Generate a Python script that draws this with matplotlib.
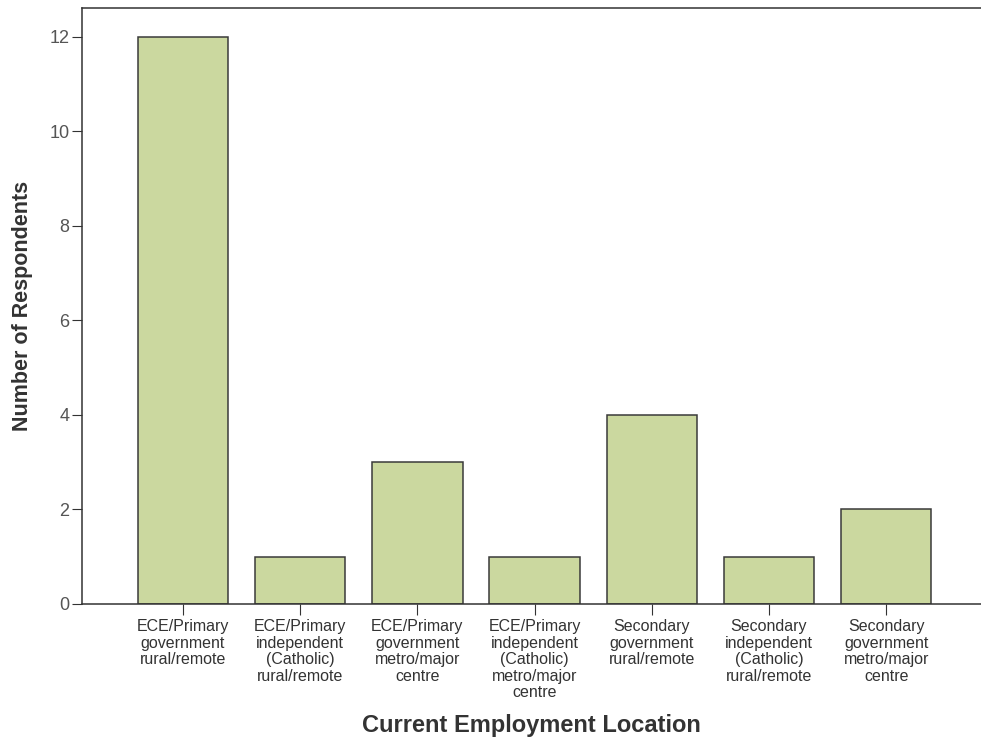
import numpy as np
import matplotlib.pyplot as plt

categories = [
    'ECE/Primary\ngovernment\nrural/remote',
    'ECE/Primary\nindependent\n(Catholic)\nrural/remote',
    'ECE/Primary\ngovernment\nmetro/major\ncentre',
    'ECE/Primary\nindependent\n(Catholic)\nmetro/major\ncentre',
    'Secondary\ngovernment\nrural/remote',
    'Secondary\nindependent\n(Catholic)\nrural/remote',
    'Secondary\ngovernment\nmetro/major\ncentre',
]
counts = [12, 1, 3, 1, 4, 1, 2]
yticks = [0, 2, 4, 6, 8, 10, 12]

plt.rcParams['font.family'] = ['Liberation Sans', 'DejaVu Sans']

fig = plt.figure(figsize=(9.81, 7.42), dpi=100)
ax = fig.add_axes([82/981, 1 - 604/742, 1.0 - 82/981, (604 - 8)/742])

x = np.arange(len(categories))
ax.bar(x, counts, width=0.77, color='#cbd89f', edgecolor='#3a3a3a', linewidth=1.1)

ax.set_xlim(-0.862, 6.809)
ax.set_ylim(0, 12.61)
ax.set_yticks(yticks)
ax.set_xticks(x)
ax.set_xticklabels(categories, fontsize=11.5, color='#333333', linespacing=1.12)
ax.tick_params(axis='y', direction='out', length=7, pad=2, labelsize=13, labelcolor='#555555', color='#333333')
ax.tick_params(axis='x', direction='out', length=8, pad=3, color='#333333')

ax.spines['right'].set_visible(False)
for s in ['left', 'top', 'bottom']:
    ax.spines[s].set_color('#333333')
    ax.spines[s].set_linewidth(1.1)

ax.set_ylabel('Number of Respondents', fontsize=15.5, fontweight='bold', color='#333333', labelpad=12)
ax.set_xlabel('Current Employment Location', fontsize=17, fontweight='bold', color='#333333', labelpad=10)

fig.savefig('out.png', dpi=100)
